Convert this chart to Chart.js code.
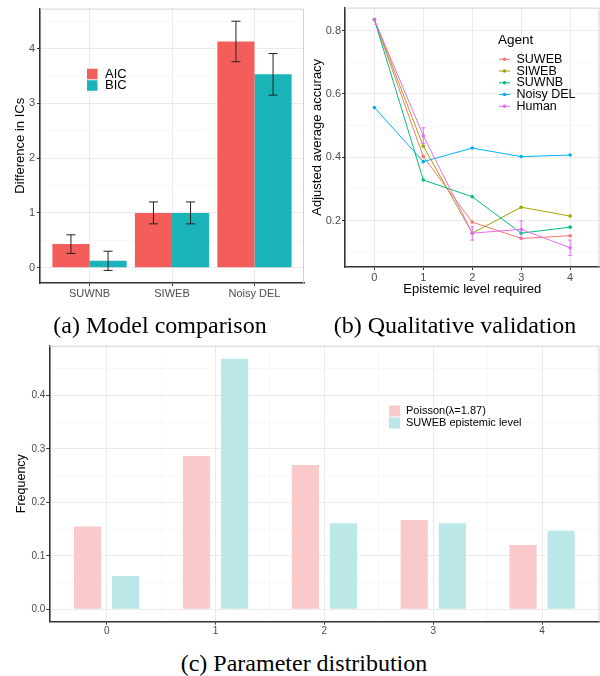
<!DOCTYPE html>
<html>
<head>
<meta charset="utf-8">
<script src="https://cdn.jsdelivr.net/npm/chart.js@4.4.1/dist/chart.umd.min.js"></script>
<style>
  html, body { margin: 0; padding: 0; background: #fff; }
  body { width: 600px; height: 676px; position: relative; overflow: hidden; }
  .box { position: absolute; }
  .cap { position: absolute; font-family: 'Liberation Serif', 'Times New Roman', serif; font-size: 24px; line-height: 24px; white-space: nowrap; color: #000; transform: translateX(-50%); }
</style>
</head>
<body>
<div class="box" style="left:0;top:0;width:306px;height:300px"><canvas id="chartA"></canvas></div>
<div class="box" style="left:300px;top:0;width:300px;height:300px"><canvas id="chartB"></canvas></div>
<div class="box" style="left:0;top:330px;width:600px;height:310px"><canvas id="chartC"></canvas></div>
<div class="cap" style="left:160px;top:313px">(a) Model comparison</div>
<div class="cap" style="left:455px;top:313px">(b) Qualitative validation</div>
<div class="cap" style="left:304px;top:651px">(c) Parameter distribution</div>
<script>
// (a) model comparison
const models = ['SUWNB', 'SIWEB', 'Noisy DEL'];
const aicDiff = [0.43, 1.0, 4.13];
const aicLow = [0.26, 0.8, 3.76];
const aicHigh = [0.6, 1.2, 4.5];
const bicDiff = [0.125, 1.0, 3.53];
const bicLow = [-0.05, 0.8, 3.15];
const bicHigh = [0.3, 1.2, 3.91];

// (b) qualitative validation
const levels = [0, 1, 2, 3, 4];
const agents = ['SUWEB', 'SIWEB', 'SUWNB', 'Noisy DEL', 'Human'];
const suweb = [0.835, 0.402, 0.195, 0.143, 0.152];
const siweb = [0.835, 0.435, 0.160, 0.242, 0.214];
const suwnb = [0.835, 0.328, 0.275, 0.160, 0.179];
const noisyDel = [0.557, 0.386, 0.429, 0.402, 0.407];
const human = [0.835, 0.468, 0.160, 0.172, 0.114];
const humanLow = [null, 0.443, 0.138, 0.145, 0.089];
const humanHigh = [null, 0.493, 0.180, 0.199, 0.138];

// (c) parameter distribution
const poisson = [0.155, 0.287, 0.270, 0.167, 0.120];
const suwebLevel = [0.062, 0.469, 0.161, 0.161, 0.147];

const FONT = "'Liberation Sans', Arial, sans-serif";
const TICK_COL = '#4D4D4D';
const MAJOR = '#EBEBEB';
const MINOR = '#F4F4F4';
const AXIS = '#333333';

// light top/right panel border
const framePlugin = {
    id: 'frame',
    beforeDatasetsDraw(chart) {
        const { ctx, chartArea: a } = chart;
        ctx.save();
        ctx.strokeStyle = '#D2D2D2';
        ctx.lineWidth = 1;
        ctx.beginPath();
        ctx.moveTo(a.left, a.top + 0.5);
        ctx.lineTo(a.right - 0.5, a.top + 0.5);
        ctx.lineTo(a.right - 0.5, a.bottom);
        ctx.stroke();
        ctx.restore();
    }
};

// error bars at each element of the given datasets
const errorBarPlugin = {
    id: 'errorBars',
    afterDatasetsDraw(chart, args, opts) {
        if (!opts.bars) return;
        const { ctx } = chart;
        const y = chart.scales.y;
        ctx.save();
        ctx.lineWidth = opts.width;
        opts.bars.forEach(b => {
            const meta = chart.getDatasetMeta(b.dataset);
            ctx.strokeStyle = b.color;
            meta.data.forEach((el, i) => {
                if (b.low[i] == null) return;
                const x = el.x;
                const y1 = y.getPixelForValue(b.low[i]);
                const y2 = y.getPixelForValue(b.high[i]);
                ctx.beginPath();
                ctx.moveTo(x, y1); ctx.lineTo(x, y2);
                ctx.moveTo(x - opts.cap, y1); ctx.lineTo(x + opts.cap, y1);
                ctx.moveTo(x - opts.cap, y2); ctx.lineTo(x + opts.cap, y2);
                ctx.stroke();
            });
        });
        ctx.restore();
    }
};

// ggplot-like legend inside the panel
const keyPlugin = {
    id: 'key',
    afterDraw(chart, args, o) {
        if (o.x == null) return;
        const ctx = chart.ctx;
        ctx.save();
        ctx.textBaseline = 'middle';
        ctx.textAlign = 'left';
        ctx.fillStyle = '#000';
        if (o.title) {
            ctx.font = o.titleSize + 'px ' + FONT;
            ctx.fillText(o.title, o.titleX, o.titleY);
        }
        ctx.font = o.size + 'px ' + FONT;
        chart.data.datasets.forEach((ds, i) => {
            const cy = o.y + i * o.gap;
            if (o.kind === 'box') {
                ctx.fillStyle = ds.backgroundColor;
                ctx.fillRect(o.x, cy - o.box / 2, o.box, o.box);
            } else {
                ctx.strokeStyle = ds.borderColor;
                ctx.fillStyle = ds.borderColor;
                ctx.lineWidth = 1;
                ctx.beginPath();
                ctx.moveTo(o.x, cy);
                ctx.lineTo(o.x + o.len, cy);
                ctx.stroke();
                ctx.beginPath();
                ctx.arc(o.x + o.len / 2, cy, 1.8, 0, Math.PI * 2);
                ctx.fill();
            }
            ctx.fillStyle = '#000';
            ctx.fillText(ds.label, o.textX, cy);
        });
        ctx.restore();
    }
};

function gridFor(isMajor, ticks) {
    return {
        color: c => isMajor(c.tick.value) ? MAJOR : MINOR,
        lineWidth: c => isMajor(c.tick.value) ? 1 : 0.6,
        tickColor: c => (ticks && isMajor(c.tick.value)) ? AXIS : 'rgba(0,0,0,0)',
        tickLength: 3,
        offset: false
    };
}

const border = { display: true, color: AXIS, width: 1.6 };
const isInt = v => Math.abs(v - Math.round(v)) < 1e-9;
const isTenthEven = v => Math.round(v * 10) % 2 === 0;
const isTwentiethEven = v => Math.round(v * 20) % 2 === 0;
const isHalfInt = v => Math.round(v * 2) % 2 === 0;

// (a) Model comparison
new Chart(document.getElementById('chartA'), {
    type: 'bar',
    data: {
        datasets: [
            { label: 'AIC', data: models.map((m, i) => ({ x: i, y: aicDiff[i] })), backgroundColor: '#F35E5A', categoryPercentage: 0.9, barPercentage: 1.0 },
            { label: 'BIC', data: models.map((m, i) => ({ x: i, y: bicDiff[i] })), backgroundColor: '#1AB4B8', categoryPercentage: 0.9, barPercentage: 1.0 }
        ]
    },
    options: {
        responsive: true,
        maintainAspectRatio: false,
        animation: false,
        layout: { padding: { top: 7, right: 2, left: 0, bottom: 0 }, autoPadding: false },
        scales: {
            x: {
                type: 'linear', min: -0.6, max: 2.6, offset: false,
                ticks: { stepSize: 1, includeBounds: false, autoSkip: false, maxRotation: 0, padding: 1, color: TICK_COL, font: { family: FONT, size: 11 }, callback: v => models[Math.round(v)] },
                grid: gridFor(() => true, true),
                border: border,
                afterFit: s => { s.height = 17; }
            },
            y: {
                min: -0.28, max: 4.73,
                ticks: { stepSize: 0.5, includeBounds: false, padding: 2, color: TICK_COL, font: { family: FONT, size: 11 }, callback: v => isInt(v) ? String(Math.round(v)) : '' },
                grid: gridFor(isInt, true),
                border: border,
                title: { display: true, text: 'Difference in ICs', color: '#000', font: { family: FONT, size: 13 }, padding: { top: 13, bottom: 0 } },
                afterFit: s => { s.width = 40; }
            }
        },
        plugins: {
            legend: { display: false },
            tooltip: { enabled: false },
            errorBars: {
                width: 1, cap: 4.5,
                bars: [
                    { dataset: 0, low: aicLow, high: aicHigh, color: '#222' },
                    { dataset: 1, low: bicLow, high: bicHigh, color: '#222' }
                ]
            },
            key: { kind: 'box', x: 87, y: 74, gap: 11.5, box: 10.5, textX: 105, size: 13 }
        }
    },
    plugins: [framePlugin, errorBarPlugin, keyPlugin]
});

// (b) Qualitative validation
const agentValues = [suweb, siweb, suwnb, noisyDel, human];
const agentColors = ['#F8766D', '#A3A500', '#00BF7D', '#00B0F6', '#E76BF3'];

new Chart(document.getElementById('chartB'), {
    type: 'line',
    data: {
        datasets: agents.map((name, k) => ({
            label: name,
            data: levels.map((l, i) => ({ x: l, y: agentValues[k][i] })),
            borderColor: agentColors[k],
            backgroundColor: agentColors[k],
            pointBackgroundColor: agentColors[k],
            borderWidth: 1,
            pointRadius: 1.8,
            pointBorderWidth: 0,
            tension: 0,
            order: agents.length - 1 - k
        }))
    },
    options: {
        responsive: true,
        maintainAspectRatio: false,
        animation: false,
        layout: { padding: { top: 7, right: 0.5, left: 0, bottom: 0 }, autoPadding: false },
        scales: {
            x: {
                type: 'linear', min: -0.6, max: 4.6,
                ticks: { stepSize: 1, includeBounds: false, autoSkip: false, maxRotation: 0, padding: 1, color: TICK_COL, font: { family: FONT, size: 11 }, callback: v => String(v) },
                grid: gridFor(() => true, true),
                border: border,
                title: { display: true, text: 'Epistemic level required', color: '#000', font: { family: FONT, size: 13 }, padding: { top: 0, bottom: 3 } },
                afterFit: s => { s.height = 33; }
            },
            y: {
                min: 0.053, max: 0.873,
                ticks: { stepSize: 0.1, includeBounds: false, padding: 1, color: TICK_COL, font: { family: FONT, size: 11 }, callback: v => isTenthEven(v) ? v.toFixed(1) : '' },
                grid: gridFor(isTenthEven, true),
                border: border,
                title: { display: true, text: 'Adjusted average accuracy', color: '#000', font: { family: FONT, size: 13 }, padding: { top: 10, bottom: 0 } },
                afterFit: s => { s.width = 45; }
            }
        },
        plugins: {
            legend: { display: false },
            tooltip: { enabled: false },
            errorBars: {
                width: 1, cap: 2,
                bars: [{ dataset: 4, low: humanLow, high: humanHigh, color: agentColors[4] }]
            },
            key: { kind: 'line', title: 'Agent', titleX: 198, titleY: 40, titleSize: 13.5, x: 199, len: 11, y: 59.3, gap: 11.75, textX: 216.5, size: 12.5 }
        }
    },
    plugins: [framePlugin, errorBarPlugin, keyPlugin]
});

// (c) Parameter distribution
new Chart(document.getElementById('chartC'), {
    type: 'bar',
    data: {
        datasets: [
            { label: 'Poisson(\u03bb=1.87)', data: levels.map((l, i) => ({ x: l, y: poisson[i] })), backgroundColor: '#FACACA', categoryPercentage: 1.4, barPercentage: 0.714 },
            { label: 'SUWEB epistemic level', data: levels.map((l, i) => ({ x: l, y: suwebLevel[i] })), backgroundColor: '#BBE7E9', categoryPercentage: 1.4, barPercentage: 0.714 }
        ]
    },
    options: {
        responsive: true,
        maintainAspectRatio: false,
        animation: false,
        layout: { padding: { top: 15.7, right: 0.5, left: 0, bottom: 0 }, autoPadding: false },
        scales: {
            x: {
                type: 'linear', min: -0.527, max: 4.527, offset: false,
                ticks: { stepSize: 0.5, includeBounds: false, autoSkip: false, maxRotation: 0, padding: 1, color: TICK_COL, font: { family: FONT, size: 10 }, callback: v => isHalfInt(v) ? String(Math.round(v)) : '' },
                grid: gridFor(isHalfInt, true),
                border: border,
                afterFit: s => { s.height = 18.3; }
            },
            y: {
                min: -0.0235, max: 0.4935,
                ticks: { stepSize: 0.05, includeBounds: false, padding: 1, color: TICK_COL, font: { family: FONT, size: 10 }, callback: v => isTwentiethEven(v) ? v.toFixed(1) : '' },
                grid: gridFor(isTwentiethEven, true),
                border: border,
                title: { display: true, text: 'Frequency', color: '#000', font: { family: FONT, size: 12.5 }, padding: { top: 14, bottom: 0 } },
                afterFit: s => { s.width = 49.3; }
            }
        },
        plugins: {
            legend: { display: false },
            tooltip: { enabled: false },
            key: { kind: 'box', x: 389, y: 81, gap: 12, box: 11, textX: 406, size: 11 }
        }
    },
    plugins: [framePlugin, keyPlugin]
});
</script>
</body>
</html>
